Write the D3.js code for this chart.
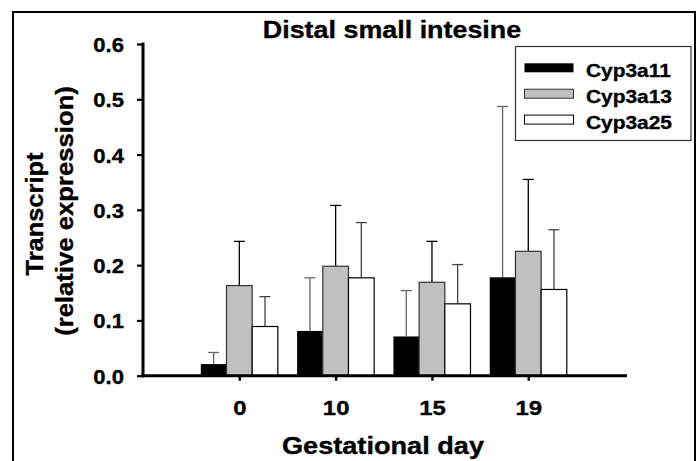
<!DOCTYPE html>
<html>
<head>
<meta charset="utf-8">
<script src="https://cdn.jsdelivr.net/npm/d3@7"></script>
<style>
  html, body { margin: 0; padding: 0; background: #fff; }
  svg { display: block; }
  text { font-family: "Liberation Sans", Arial, sans-serif; font-weight: bold; fill: #000; stroke: #000; stroke-width: 0.35px; }
</style>
</head>
<body>
<svg id="chart" width="697" height="461"></svg>
<script>
// ---- data ----
const categories = ["0", "10", "15", "19"];
const seriesNames = ["Cyp3a11", "Cyp3a13", "Cyp3a25"];
const cyp3a11 = [0.021, 0.081, 0.071, 0.178];
const cyp3a13 = [0.163, 0.198, 0.169, 0.225];
const cyp3a25 = [0.089, 0.177, 0.130, 0.156];
const cyp3a11Err = [0.021, 0.096, 0.083, 0.309];
const cyp3a13Err = [0.080, 0.110, 0.074, 0.130];
const cyp3a25Err = [0.054, 0.100, 0.071, 0.108];
const yTicks = [0, 0.1, 0.2, 0.3, 0.4, 0.5, 0.6];
const titleText = "Distal small intesine";
const xTitle = "Gestational day";
const yTitle = ["Transcript", "(relative expression)"];

const seriesValues = [cyp3a11, cyp3a13, cyp3a25];
const seriesErrors = [cyp3a11Err, cyp3a13Err, cyp3a25Err];
const fills = ["#000000", "#c0c0c0", "#ffffff"];
const strokes = ["#000000", "#333333", "#000000"];
const errColors = ["#666666", "#000000", "#444444"];

const svg = d3.select("#chart");

function stretch(sel, factor) {
  sel.each(function () {
    const w = this.getComputedTextLength();
    d3.select(this).attr("textLength", w * factor).attr("lengthAdjust", "spacingAndGlyphs");
  });
}

// outer frame
svg.append("rect").attr("x", 13).attr("y", 12).attr("width", 682).attr("height", 470)
  .attr("fill", "none").attr("stroke", "#000").attr("stroke-width", 2);

// scales
const x = d3.scaleLinear().domain([0, categories.length + 1]).range([143, 624.6]);
const y = d3.scaleLinear().domain([0, 0.6]).range([375.7, 44]);
const step = x(1) - x(0);
const barW = step * 0.8 / seriesNames.length;

// bars
const g = svg.append("g");
seriesNames.forEach((name, si) => {
  const vals = seriesValues[si];
  const errs = seriesErrors[si];
  const off = (si - (seriesNames.length - 1) / 2) * barW;
  vals.forEach((v, ci) => {
    const cx = x(ci + 1) + off;
    g.append("line").attr("x1", cx).attr("x2", cx)
      .attr("y1", y(v)).attr("y2", y(v + errs[ci]))
      .attr("stroke", errColors[si]).attr("stroke-width", 1.3);
    g.append("line").attr("x1", cx - 5.5).attr("x2", cx + 5.5)
      .attr("y1", y(v + errs[ci])).attr("y2", y(v + errs[ci]))
      .attr("stroke", errColors[si]).attr("stroke-width", 1.3);
  });
  g.selectAll(null).data(vals).enter().append("rect")
    .attr("x", (d, ci) => x(ci + 1) + off - barW / 2)
    .attr("width", barW)
    .attr("y", d => y(d))
    .attr("height", d => y(0) - y(d))
    .attr("fill", fills[si])
    .attr("stroke", strokes[si])
    .attr("stroke-width", si === 0 ? 0 : 1.2);
});

// y axis
const yAxis = svg.append("g").attr("transform", "translate(143,0)")
  .call(d3.axisLeft(y).tickValues(yTicks).tickFormat(d3.format(".1f")).tickSize(6).tickSizeOuter(0).tickPadding(13));
yAxis.select(".domain").attr("stroke", "#000").attr("stroke-width", 3)
  .attr("d", `M0,${y(0.6) - 1.5}V${y(0) + 1.5}`);
yAxis.selectAll(".tick line").attr("stroke", "#000").attr("stroke-width", 2.2);
yAxis.selectAll(".tick text").attr("font-size", 21).attr("dy", "0.36em")
  .style("font-family", "'Liberation Sans', Arial, sans-serif").style("font-weight", "bold");
stretch(yAxis.selectAll(".tick text"), 1.05);

// x axis
const xAxis = svg.append("g").attr("transform", `translate(0,${y(0)})`)
  .call(d3.axisBottom(x).tickValues(categories.map((c, i) => i + 1))
    .tickFormat((d) => categories[d - 1]).tickSize(5).tickSizeOuter(0).tickPadding(19));
xAxis.select(".domain").attr("stroke", "#000").attr("stroke-width", 3)
  .attr("d", `M${143 - 1.5},0H${627}`);
xAxis.selectAll(".tick line").attr("stroke", "#000").attr("stroke-width", 2.5);
xAxis.selectAll(".tick text").attr("font-size", 21)
  .style("font-family", "'Liberation Sans', Arial, sans-serif").style("font-weight", "bold");
stretch(xAxis.selectAll(".tick text"), 1.14);

// title
const t = svg.append("text").attr("x", 392).attr("y", 38).attr("text-anchor", "middle")
  .attr("font-size", 24).text(titleText);
stretch(t, 1.12);

// x title
const xt = svg.append("text").attr("x", 383).attr("y", 454).attr("text-anchor", "middle")
  .attr("font-size", 23).text(xTitle);
stretch(xt, 1.18);

// y title (two lines, rotated)
const yt1 = svg.append("text").attr("transform", "translate(43,214) rotate(-90)")
  .attr("text-anchor", "middle").attr("font-size", 24).text(yTitle[0]);
stretch(yt1, 1.06);
const yt2 = svg.append("text").attr("transform", "translate(73,211) rotate(-90)")
  .attr("text-anchor", "middle").attr("font-size", 24).text(yTitle[1]);
stretch(yt2, 1.07);

// legend
const lg = svg.append("g");
lg.append("rect").attr("x", 515.5).attr("y", 46.5).attr("width", 175.5).attr("height", 94)
  .attr("fill", "#fff").attr("stroke", "#333").attr("stroke-width", 1.2);
seriesNames.forEach((name, si) => {
  const ry = 63.3 + si * 25.9;
  lg.append("rect").attr("x", 524.5).attr("y", ry).attr("width", 49).attr("height", 9)
    .attr("fill", fills[si]).attr("stroke", si === 0 ? "none" : strokes[si]).attr("stroke-width", 1);
  const lt = lg.append("text").attr("x", 586).attr("y", ry + 13.6).attr("font-size", 18.5).text(name);
  stretch(lt, 1.13);
});
</script>
</body>
</html>
